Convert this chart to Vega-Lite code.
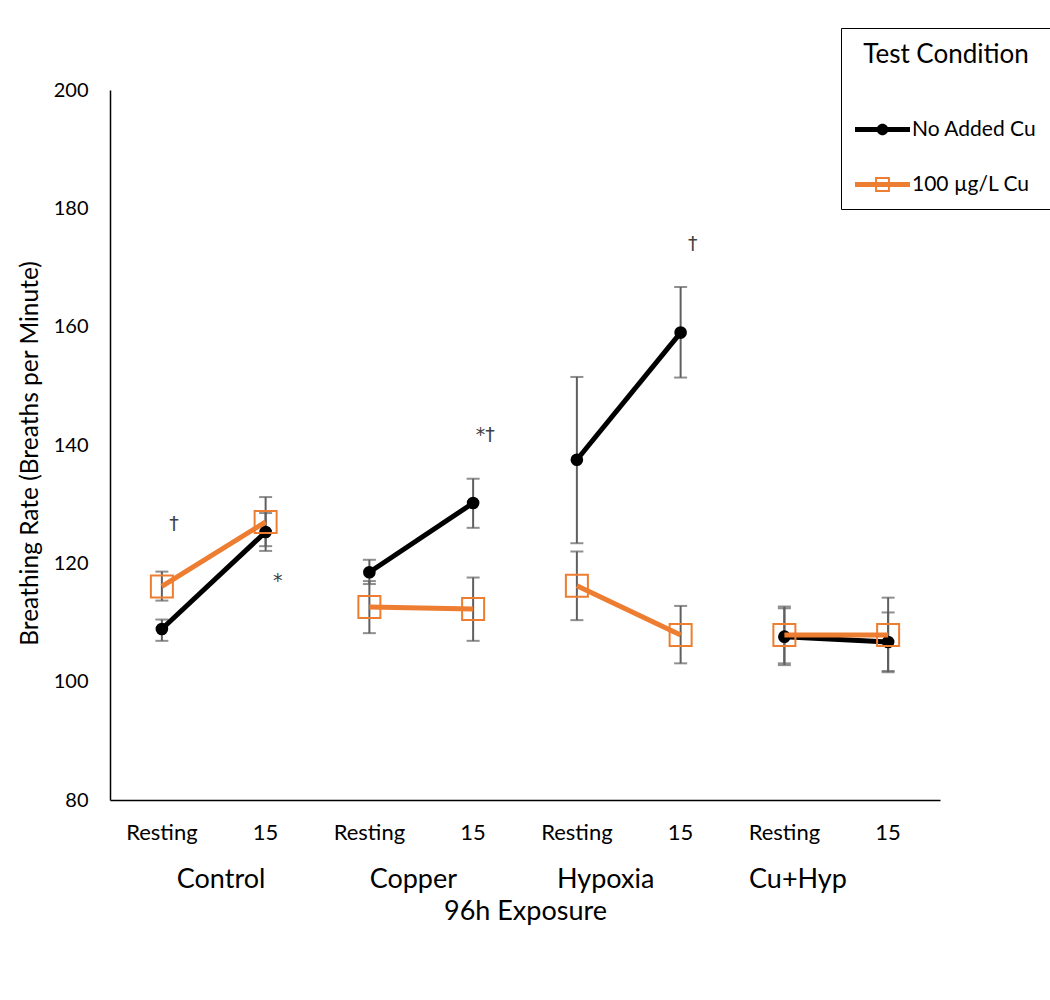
{
  "$schema": "https://vega.github.io/schema/vega-lite/v6.json",
  "autosize": {"type": "none"},
  "width": 830,
  "height": 710,
  "padding": {"left": 110, "top": 90, "right": 110, "bottom": 200},
  "background": "white",
  "config": {"font": "Lato", "view": {"stroke": null}},
  "datasets": {
    "rates": [
      {"series": "No Added Cu", "group": "Control", "cat": "Control Resting", "mean": 108.9, "lo": 106.9, "hi": 110.5},
      {"series": "No Added Cu", "group": "Control", "cat": "Control 15", "mean": 125.3, "lo": 122.1, "hi": 128.5},
      {"series": "No Added Cu", "group": "Copper", "cat": "Copper Resting", "mean": 118.5, "lo": 116.5, "hi": 120.6},
      {"series": "No Added Cu", "group": "Copper", "cat": "Copper 15", "mean": 130.2, "lo": 126.0, "hi": 134.3},
      {"series": "No Added Cu", "group": "Hypoxia", "cat": "Hypoxia Resting", "mean": 137.5, "lo": 123.4, "hi": 151.5},
      {"series": "No Added Cu", "group": "Hypoxia", "cat": "Hypoxia 15", "mean": 159.0, "lo": 151.4, "hi": 166.7},
      {"series": "No Added Cu", "group": "Cu+Hyp", "cat": "Cu+Hyp Resting", "mean": 107.6, "lo": 102.8, "hi": 112.4},
      {"series": "No Added Cu", "group": "Cu+Hyp", "cat": "Cu+Hyp 15", "mean": 106.7, "lo": 101.8, "hi": 111.7},
      {"series": "100 µg/L Cu", "group": "Control", "cat": "Control Resting", "mean": 116.1, "lo": 113.7, "hi": 118.6},
      {"series": "100 µg/L Cu", "group": "Control", "cat": "Control 15", "mean": 127.0, "lo": 122.9, "hi": 131.2},
      {"series": "100 µg/L Cu", "group": "Copper", "cat": "Copper Resting", "mean": 112.6, "lo": 108.2, "hi": 117.0},
      {"series": "100 µg/L Cu", "group": "Copper", "cat": "Copper 15", "mean": 112.3, "lo": 106.9, "hi": 117.6},
      {"series": "100 µg/L Cu", "group": "Hypoxia", "cat": "Hypoxia Resting", "mean": 116.2, "lo": 110.4, "hi": 122.0},
      {"series": "100 µg/L Cu", "group": "Hypoxia", "cat": "Hypoxia 15", "mean": 107.9, "lo": 103.1, "hi": 112.8},
      {"series": "100 µg/L Cu", "group": "Cu+Hyp", "cat": "Cu+Hyp Resting", "mean": 107.9, "lo": 103.1, "hi": 112.7},
      {"series": "100 µg/L Cu", "group": "Cu+Hyp", "cat": "Cu+Hyp 15", "mean": 107.9, "lo": 101.6, "hi": 114.2}
    ],
    "notes": [
      {"cat": "Control Resting", "y": 126.6, "label": "†"},
      {"cat": "Control 15", "y": 117.0, "label": "*"},
      {"cat": "Copper 15", "y": 141.7, "label": "*†"},
      {"cat": "Hypoxia 15", "y": 174.0, "label": "†"}
    ],
    "groups": [
      {"group": "Control"}, {"group": "Copper"}, {"group": "Hypoxia"}, {"group": "Cu+Hyp"}
    ],
    "legendrows": [
      {"series": "No Added Cu"}, {"series": "100 µg/L Cu"}
    ]
  },
  "resolve": {"scale": {"x": "independent"}, "axis": {"x": "independent"}},
  "layer": [
    {
      "data": {"name": "rates"},
      "encoding": {
        "x": {
          "field": "cat", "type": "nominal",
          "sort": ["Control Resting", "Control 15", "Copper Resting", "Copper 15", "Hypoxia Resting", "Hypoxia 15", "Cu+Hyp Resting", "Cu+Hyp 15"],
          "scale": {"type": "band", "paddingInner": 0, "paddingOuter": 0},
          "axis": {
            "title": null, "labelAngle": 0, "ticks": false, "domainColor": "black", "domainWidth": 1.5,
            "labelPadding": 22, "labelFontSize": 22, "labelColor": "black",
            "labelExpr": "indexof(datum.label, 'Resting') >= 0 ? 'Resting' : '15'"
          }
        }
      },
      "layer": [
        {
          "mark": {"type": "rule", "color": "#5f5f5f", "strokeWidth": 2},
          "encoding": {
            "y": {"field": "lo", "type": "quantitative",
              "scale": {"domain": [80, 200], "nice": false, "zero": false},
              "axis": {
                "title": "Breathing Rate (Breaths per Minute)", "values": [80, 100, 120, 140, 160, 180, 200],
                "grid": false, "ticks": false, "domainColor": "black", "domainWidth": 1.5,
                "labelPadding": 22, "labelFontSize": 20, "labelColor": "black",
                "titleFontSize": 24.5, "titleFontWeight": "normal", "titleColor": "black", "titlePadding": 11, "titleY": 363
              }
            },
            "y2": {"field": "hi"}
          }
        },
        {
          "mark": {"type": "tick", "color": "#5f5f5f", "thickness": 2, "size": 13},
          "encoding": {"y": {"field": "lo", "type": "quantitative"}}
        },
        {
          "mark": {"type": "tick", "color": "#5f5f5f", "thickness": 2, "size": 13},
          "encoding": {"y": {"field": "hi", "type": "quantitative"}}
        },
        {
          "transform": [{"filter": "datum.series === 'No Added Cu'"}],
          "mark": {"type": "line", "color": "#000000", "strokeWidth": 5},
          "encoding": {"y": {"field": "mean", "type": "quantitative"}, "detail": {"field": "group"}}
        },
        {
          "transform": [{"filter": "datum.series === 'No Added Cu'"}],
          "mark": {"type": "point", "shape": "circle", "filled": true, "color": "#000000", "size": 160, "opacity": 1},
          "encoding": {"y": {"field": "mean", "type": "quantitative"}}
        },
        {
          "transform": [{"filter": "datum.series !== 'No Added Cu'"}],
          "mark": {"type": "line", "color": "#ED7D31", "strokeWidth": 5},
          "encoding": {"y": {"field": "mean", "type": "quantitative"}, "detail": {"field": "group"}}
        },
        {
          "transform": [{"filter": "datum.series !== 'No Added Cu'"}],
          "mark": {"type": "point", "shape": "square", "filled": false, "color": "#ED7D31", "size": 484, "strokeWidth": 2, "opacity": 1},
          "encoding": {"y": {"field": "mean", "type": "quantitative"}}
        },
        {
          "data": {"name": "notes"},
          "mark": {"type": "text", "color": "#404040", "fontSize": 19, "dx": 12, "baseline": "middle", "font": "DejaVu Sans"},
          "encoding": {"y": {"field": "y", "type": "quantitative"}, "text": {"field": "label"}}
        }
      ]
    },
    {
      "data": {"name": "legendrows"},
      "mark": {"type": "point", "filled": true, "opacity": 0, "size": 3025, "strokeWidth": 0},
      "encoding": {
        "color": {"field": "series", "type": "nominal",
          "scale": {"domain": ["No Added Cu", "100 µg/L Cu"], "range": ["#000000", "#ED7D31"]},
          "legend": {
            "title": "Test Condition", "orient": "none", "legendX": 731, "legendY": -62,
            "strokeColor": "black", "fillColor": "white", "padding": 14,
            "titleFontSize": 26, "titleFontWeight": "normal", "titleColor": "black", "titlePadding": 34, "titleAnchor": "middle",
            "labelFontSize": 21, "labelColor": "black", "labelOffset": 2,
            "symbolSize": 3025, "symbolStrokeWidth": 0, "symbolOpacity": 1, "rowPadding": 17
          }
        },
        "shape": {"field": "series", "type": "nominal",
          "scale": {"domain": ["No Added Cu", "100 µg/L Cu"], "range": [
            "M-1,-0.09 L1,-0.09 L1,0.09 L-1,0.09 Z M0.21,0 A0.21,0.21 0 1,1 -0.21,0 A0.21,0.21 0 1,1 0.21,0 Z",
            "M-1,-0.09 L1,-0.09 L1,0.09 L-1,0.09 Z M-0.27,-0.27 L0.27,-0.27 L0.27,0.27 L-0.27,0.27 Z M-0.2,-0.2 L-0.2,0.2 L0.2,0.2 L0.2,-0.2 Z"
          ]},
          "legend": {
            "title": "Test Condition", "orient": "none", "legendX": 731, "legendY": -62,
            "strokeColor": "black", "fillColor": "white", "padding": 14,
            "titleFontSize": 26, "titleFontWeight": "normal", "titleColor": "black", "titlePadding": 34, "titleAnchor": "middle",
            "labelFontSize": 21, "labelColor": "black", "labelOffset": 2,
            "symbolSize": 3025, "symbolStrokeWidth": 0, "symbolOpacity": 1, "rowPadding": 17
          }
        }
      }
    },
    {
      "data": {"name": "groups"},
      "mark": {"type": "text", "text": ""},
      "encoding": {
        "x": {
          "field": "group", "type": "nominal", "sort": ["Control", "Copper", "Hypoxia", "Cu+Hyp"],
          "scale": {"type": "band", "paddingInner": 0, "paddingOuter": 0.158, "align": 0.245},
          "axis": {
            "orient": "bottom", "domain": false, "ticks": false, "labelAngle": 0,
            "labelPadding": 66, "labelFontSize": 27, "labelColor": "black",
            "title": "96h Exposure", "titleFontSize": 27, "titleFontWeight": "normal", "titleColor": "black", "titlePadding": 6
          }
        }
      }
    }
  ]
}
